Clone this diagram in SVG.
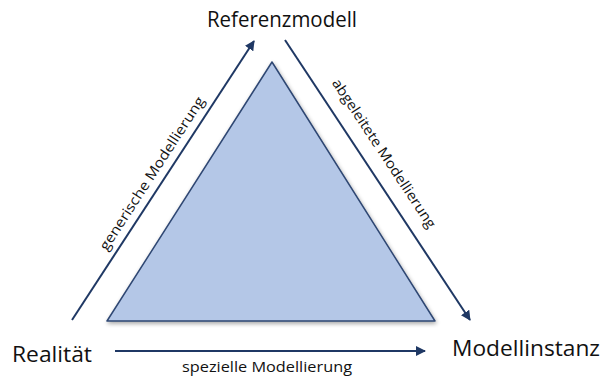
<svg xmlns="http://www.w3.org/2000/svg" width="605" height="378" viewBox="0 0 605 378">
<defs>
<marker id="ah" viewBox="0 0 10 10" refX="9" refY="5" markerWidth="5" markerHeight="5" orient="auto" markerUnits="strokeWidth">
<path d="M0,0 L10,5 L0,10 z" fill="#1f3864"/>
</marker>
<filter id="sh" x="-10%" y="-10%" width="120%" height="120%">
<feGaussianBlur in="SourceAlpha" stdDeviation="2"/>
<feOffset dx="1" dy="2"/>
<feComponentTransfer><feFuncA type="linear" slope="0.35"/></feComponentTransfer>
<feMerge><feMergeNode/><feMergeNode in="SourceGraphic"/></feMerge>
</filter>
</defs>
<style>
.big{font-family:"Open Sans","Liberation Sans",sans-serif;font-size:22px;fill:#111}
.lbl{font-family:"Open Sans","Liberation Sans",sans-serif;font-size:14px;fill:#111}
.conn{stroke:#1f3864;stroke-width:2;fill:none;marker-end:url(#ah)}
</style>
<rect width="605" height="378" fill="#fff"/>
<g id="triangle">
<polygon points="272,62 107,321 435,321" fill="#b4c7e7" stroke="#2f4773" stroke-width="1.5" stroke-linejoin="round" filter="url(#sh)"/>
</g>
<g id="referenzmodell"><text class="big" x="282" y="27" text-anchor="middle" textLength="150" lengthAdjust="spacingAndGlyphs">Referenzmodell</text></g>
<g id="realitaet"><text class="big" x="12" y="362" textLength="80" lengthAdjust="spacingAndGlyphs">Realität</text></g>
<g id="modellinstanz"><text class="big" x="452" y="356" textLength="148" lengthAdjust="spacingAndGlyphs">Modellinstanz</text></g>
<g id="connectors">
<line class="conn" x1="72" y1="320" x2="254" y2="41"/>
<line class="conn" x1="285" y1="40" x2="470" y2="320"/>
<line class="conn" x1="115" y1="351" x2="425" y2="351"/>
</g>
<g id="labels">
<text class="lbl" transform="translate(156,176) rotate(-57)" text-anchor="middle" textLength="180" lengthAdjust="spacingAndGlyphs">generische Modellierung</text>
<text class="lbl" transform="translate(380,156) rotate(56.5)" text-anchor="middle" textLength="176" lengthAdjust="spacingAndGlyphs">abgeleitete Modellierung</text>
<text class="lbl" x="267" y="372" text-anchor="middle" textLength="170" lengthAdjust="spacingAndGlyphs">spezielle Modellierung</text>
</g>
</svg>
